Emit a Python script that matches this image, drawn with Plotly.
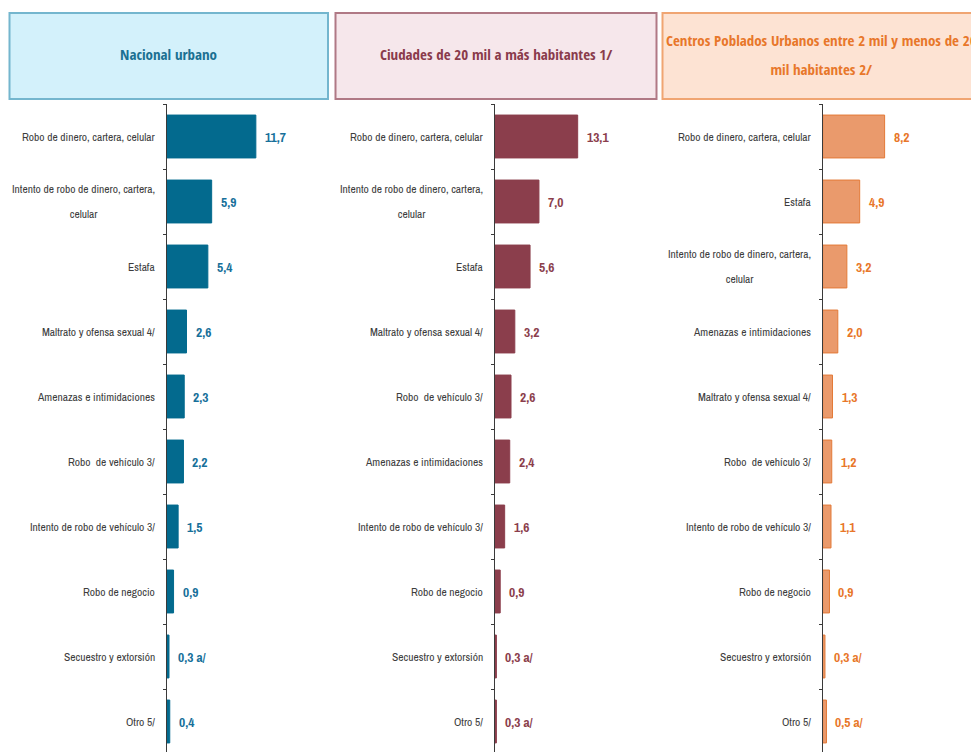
import plotly.graph_objects as go

W, H = 971, 752

# ---------------- data ----------------
titles = [
    "Nacional urbano",
    "Ciudades de 20 mil a más habitantes 1/",
    "Centros Poblados Urbanos entre 2 mil y menos de 20<br>mil habitantes 2/",
]

cats_nacional = ["Robo de dinero, cartera, celular",
                 "Intento de robo de dinero, cartera,<br>celular",
                 "Estafa",
                 "Maltrato y ofensa sexual 4/",
                 "Amenazas e intimidaciones",
                 "Robo  de vehículo 3/",
                 "Intento de robo de vehículo 3/",
                 "Robo de negocio",
                 "Secuestro y extorsión",
                 "Otro 5/"]
vals_nacional = [11.7, 5.9, 5.4, 2.6, 2.3, 2.2, 1.5, 0.9, 0.3, 0.4]
notes_nacional = ["", "", "", "", "", "", "", "", " a/", ""]

cats_ciudades = ["Robo de dinero, cartera, celular",
                 "Intento de robo de dinero, cartera,<br>celular",
                 "Estafa",
                 "Maltrato y ofensa sexual 4/",
                 "Robo  de vehículo 3/",
                 "Amenazas e intimidaciones",
                 "Intento de robo de vehículo 3/",
                 "Robo de negocio",
                 "Secuestro y extorsión",
                 "Otro 5/"]
vals_ciudades = [13.1, 7.0, 5.6, 3.2, 2.6, 2.4, 1.6, 0.9, 0.3, 0.3]
notes_ciudades = ["", "", "", "", "", "", "", "", " a/", " a/"]

cats_centros = ["Robo de dinero, cartera, celular",
                "Estafa",
                "Intento de robo de dinero, cartera,<br>celular",
                "Amenazas e intimidaciones",
                "Maltrato y ofensa sexual 4/",
                "Robo  de vehículo 3/",
                "Intento de robo de vehículo 3/",
                "Robo de negocio",
                "Secuestro y extorsión",
                "Otro 5/"]
vals_centros = [8.2, 4.9, 3.2, 2.0, 1.3, 1.2, 1.1, 0.9, 0.3, 0.5]
notes_centros = ["", "", "", "", "", "", "", "", " a/", " a/"]

# ---------------- styling ----------------
panels = [
    dict(cats=cats_nacional, vals=vals_nacional, notes=notes_nacional,
         bar="#036a8e", line="#036a8e", txt="#17709a",
         hfill="#d3f1fb", hline="#74b6ce", htxt="#1b7092",
         box=(9.5, 328), axis_px=166.7, right_px=328, scale=7.62),
    dict(cats=cats_ciudades, vals=vals_ciudades, notes=notes_ciudades,
         bar="#8b3e4c", line="#8b3e4c", txt="#8b3e4c",
         hfill="#f6e7eb", hline="#b07985", htxt="#8a3b4b",
         box=(335.5, 656.5), axis_px=494.5, right_px=656, scale=6.35),
    dict(cats=cats_centros, vals=vals_centros, notes=notes_centros,
         bar="#ea9a6c", line="#e37a38", txt="#e8772a",
         hfill="#fde3d3", hline="#f0a572", htxt="#e8772a",
         box=(662.5, 981), axis_px=822.7, right_px=971, scale=7.55),
]

LABEL_FONT = "Archivo Narrow, Roboto Condensed, DejaVu Sans Condensed, sans-serif"
TITLE_FONT = "Open Sans Condensed, Roboto Condensed, Archivo Narrow, sans-serif"
LABEL_SIZE = 11.5
TITLE_SIZE = 15

plot_top_px = 104.0
row_px = 65.0
y_bottom_val = -0.5 + (H - plot_top_px) / row_px

fig = go.Figure()
shapes = []
annotations = []


def px_x(p):
    return p / W


def px_y(p):
    return 1 - p / H


def spaced(text, size, gap):
    """Multi-line text with a wide line pitch: base font sets the pitch,
    inner spans set the glyph size."""
    lines = text.split("<br>")
    if len(lines) == 1:
        return text, size
    return "<br>".join(f"<span style='font-size:{size}px'>{ln}</span>" for ln in lines), gap / 1.3


for i, p in enumerate(panels):
    k = "" if i == 0 else str(i + 1)
    xa, ya = "x" + k, "y" + k
    texts = [f"{v:.1f}".replace(".", ",") + nt for v, nt in zip(p["vals"], p["notes"])]
    fig.add_trace(go.Bar(
        x=p["vals"], y=p["cats"], orientation="h",
        xaxis=xa, yaxis=ya, width=0.66,
        marker=dict(color=p["bar"], line=dict(color=p["line"], width=1)),
        showlegend=False, hoverinfo="x+y",
    ))
    rng = (p["right_px"] - p["axis_px"]) / p["scale"]
    fig.layout["xaxis" + k] = dict(
        domain=[px_x(p["axis_px"]), px_x(p["right_px"])],
        range=[0, rng], visible=False, anchor=ya, fixedrange=True,
    )
    fig.layout["yaxis" + k] = dict(
        domain=[0, px_y(plot_top_px)], anchor=xa,
        type="category", categoryorder="array", categoryarray=p["cats"],
        range=[y_bottom_val, -0.5], fixedrange=True,
        showline=True, linecolor="#3a3a3a", linewidth=1,
        ticks="outside", tickson="boundaries", ticklen=3, tickcolor="#3a3a3a",
        showticklabels=False, showgrid=False, zeroline=False,
    )
    # category labels
    for c in p["cats"]:
        txt, fsize = spaced(c, LABEL_SIZE, 25)
        annotations.append(dict(
            x=0, xref=xa + " domain", y=c, yref=ya,
            text=txt, showarrow=False, xanchor="right", yanchor="middle",
            align="center", xshift=-10,
            font=dict(family=LABEL_FONT, size=fsize, color="#3d3d3d"),
        ))
    # value labels
    for c, v, t in zip(p["cats"], p["vals"], texts):
        annotations.append(dict(
            x=v, xref=xa, y=c, yref=ya, text="<b>" + t + "</b>",
            showarrow=False, xanchor="left", yanchor="middle", xshift=7,
            font=dict(family=LABEL_FONT, size=13.5, color=p["txt"]),
        ))
    # header box
    x0, x1 = p["box"]
    shapes.append(dict(
        type="rect", xref="paper", yref="paper",
        x0=px_x(x0), x1=px_x(x1), y0=px_y(99), y1=px_y(13),
        fillcolor=p["hfill"], line=dict(color=p["hline"], width=2),
        layer="below",
    ))
    ttxt, tsize = spaced("<b>" + titles[i].replace("<br>", "</b><br><b>") + "</b>", TITLE_SIZE, 28.5)
    annotations.append(dict(
        x=px_x((x0 + x1) / 2), xref="paper", y=px_y(54.5), yref="paper",
        text=ttxt, showarrow=False,
        xanchor="center", yanchor="middle", align="center",
        font=dict(family=TITLE_FONT, size=tsize, color=p["htxt"]),
    ))

fig.update_layout(
    width=W, height=H,
    margin=dict(l=0, r=0, t=0, b=0),
    paper_bgcolor="white", plot_bgcolor="white",
    shapes=shapes, annotations=annotations,
)

fig.write_html("out.html", config={"displayModeBar": False},
               post_script="document.body.style.margin='0';")
